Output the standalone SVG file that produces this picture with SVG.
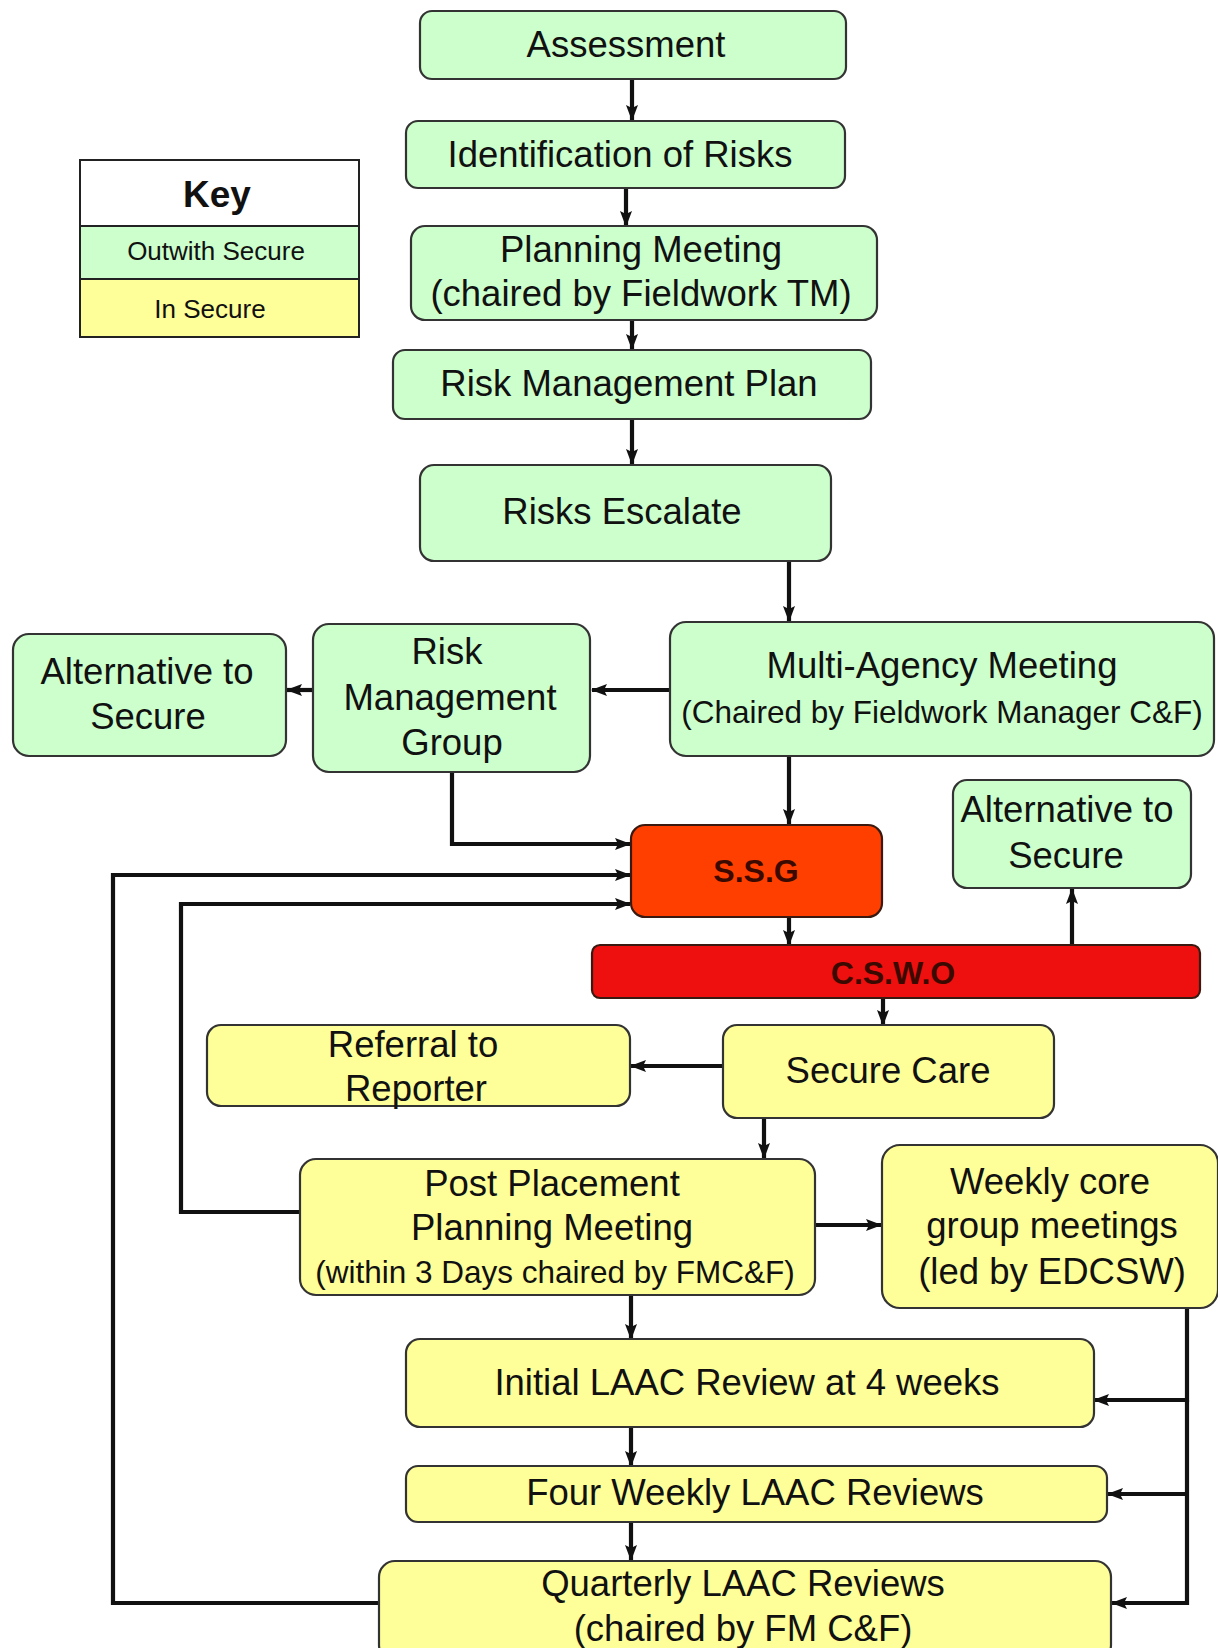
<svg xmlns="http://www.w3.org/2000/svg" width="1218" height="1648" viewBox="0 0 1218 1648">
<defs>
<marker id="ah" markerUnits="userSpaceOnUse" markerWidth="16" markerHeight="14" viewBox="0 0 16 14" refX="15" refY="7" orient="auto">
<path d="M0,1 L16,7 L0,13 L3,7 Z" fill="#111"/>
</marker>
<style>
.g{fill:#ccffcc;stroke:#333;stroke-width:2.2}
.y{fill:#ffff99;stroke:#333;stroke-width:2.2}
.t{font-family:"Liberation Sans",Arial,sans-serif;font-size:36.5px;fill:#111;text-anchor:middle}
.s{font-size:31.5px}
.b{font-weight:bold}
.c{fill:none;stroke:#111;stroke-width:4.2;marker-end:url(#ah)}
</style>
</defs>
<rect width="1218" height="1648" fill="#fff"/>

<g id="key">
<rect x="80" y="160" width="279" height="66" fill="#fff" stroke="#222" stroke-width="2"/>
<rect x="80" y="226" width="279" height="53" fill="#ccffcc" stroke="#222" stroke-width="2"/>
<rect x="80" y="279" width="279" height="58" fill="#ffff99" stroke="#222" stroke-width="2"/>
<text class="t b" x="217" y="207" style="font-size:37px">Key</text>
<text class="t" x="216" y="260" style="font-size:26px">Outwith Secure</text>
<text class="t" x="210" y="318" style="font-size:26px">In Secure</text>
</g>

<g id="connectors">
<path class="c" d="M632,79 V120"/>
<path class="c" d="M626,187 V226"/>
<path class="c" d="M632,308 V349"/>
<path class="c" d="M632,418 V464"/>
<path class="c" d="M789,560 V621"/>
<path class="c" d="M669,690 H592"/>
<path class="c" d="M313,690 H287"/>
<path class="c" d="M789,755 V824"/>
<path class="c" d="M452,772 V844 H630"/>
<path class="c" d="M378,1603 H113 V875 H630"/>
<path class="c" d="M300,1212 H181 V904 H630"/>
<path class="c" d="M789,916 V945"/>
<path class="c" d="M1072,946 V889"/>
<path class="c" d="M883,998 V1025"/>
<path class="c" d="M722,1066 H631"/>
<path class="c" d="M764,1117 V1158"/>
<path class="c" d="M815,1225 H881"/>
<path class="c" d="M631,1295 V1339"/>
<path class="c" d="M631,1427 V1466"/>
<path class="c" d="M631,1521 V1560"/>
<path class="c" d="M1187,1308 V1400 H1094"/>
<path class="c" d="M1187,1494 H1108"/>
<path class="c" d="M1187,1400 V1603 H1112"/>
</g>

<g id="assessment">
<rect class="g" x="420" y="11" width="426" height="68" rx="12"/>
<text class="t" x="626" y="57">Assessment</text>
</g>
<g id="identification">
<rect class="g" x="406" y="121" width="439" height="67" rx="12"/>
<text class="t" x="620" y="167">Identification of Risks</text>
</g>
<g id="planning">
<rect class="g" x="411" y="226" width="466" height="94" rx="14"/>
<text class="t" x="641" y="262">Planning Meeting</text>
<text class="t" x="641" y="306">(chaired by Fieldwork TM)</text>
</g>
<g id="rmp">
<rect class="g" x="393" y="350" width="478" height="69" rx="12"/>
<text class="t" x="629" y="396">Risk Management Plan</text>
</g>
<g id="escalate">
<rect class="g" x="420" y="465" width="411" height="96" rx="14"/>
<text class="t" x="622" y="524">Risks Escalate</text>
</g>
<g id="mam">
<rect class="g" x="670" y="622" width="544" height="134" rx="16"/>
<text class="t" x="942" y="678">Multi-Agency Meeting</text>
<text class="t s" x="942" y="723">(Chaired by Fieldwork Manager C&amp;F)</text>
</g>
<g id="rmg">
<rect class="g" x="313" y="624" width="277" height="148" rx="16"/>
<text class="t" x="447" y="664">Risk</text>
<text class="t" x="450" y="710">Management</text>
<text class="t" x="452" y="755">Group</text>
</g>
<g id="alt1">
<rect class="g" x="13" y="634" width="273" height="122" rx="16"/>
<text class="t" x="147" y="684">Alternative to</text>
<text class="t" x="148" y="729">Secure</text>
</g>
<g id="alt2">
<rect class="g" x="953" y="780" width="238" height="108" rx="14"/>
<text class="t" x="1067" y="822">Alternative to</text>
<text class="t" x="1066" y="868">Secure</text>
</g>
<g id="ssg">
<rect x="631" y="825" width="251" height="92" rx="14" fill="#ff3f00" stroke="#3a1a10" stroke-width="2.2"/>
<text class="t b" x="756" y="882" style="font-size:32px;fill:#3a0a00">S.S.G</text>
</g>
<g id="cswo">
<rect x="592" y="945" width="608" height="53" rx="8" fill="#ee0f0f" stroke="#3a1a10" stroke-width="2.2"/>
<text class="t b" x="893" y="984" style="font-size:32px;fill:#3a0a00">C.S.W.O</text>
</g>
<g id="securecare">
<rect class="y" x="723" y="1025" width="331" height="93" rx="14"/>
<text class="t" x="888" y="1083">Secure Care</text>
</g>
<g id="referral">
<rect class="y" x="207" y="1025" width="423" height="81" rx="14"/>
<text class="t" x="413" y="1057">Referral to</text>
<text class="t" x="416" y="1101">Reporter</text>
</g>
<g id="pppm">
<rect class="y" x="300" y="1159" width="515" height="136" rx="16"/>
<text class="t" x="552" y="1196">Post Placement</text>
<text class="t" x="552" y="1240">Planning Meeting</text>
<text class="t s" x="555" y="1283">(within 3 Days chaired by FMC&amp;F)</text>
</g>
<g id="weekly">
<rect class="y" x="882" y="1145" width="336" height="163" rx="18"/>
<text class="t" x="1050" y="1194">Weekly core</text>
<text class="t" x="1052" y="1238">group meetings</text>
<text class="t" x="1052" y="1284">(led by EDCSW)</text>
</g>
<g id="initial">
<rect class="y" x="406" y="1339" width="688" height="88" rx="14"/>
<text class="t" x="747" y="1395">Initial LAAC Review at 4 weeks</text>
</g>
<g id="fourweekly">
<rect class="y" x="406" y="1466" width="701" height="56" rx="12"/>
<text class="t" x="755" y="1505">Four Weekly LAAC Reviews</text>
</g>
<g id="quarterly">
<rect class="y" x="379" y="1561" width="732" height="100" rx="16"/>
<text class="t" x="743" y="1596">Quarterly LAAC Reviews</text>
<text class="t" x="743" y="1641">(chaired by FM C&amp;F)</text>
</g>
</svg>
